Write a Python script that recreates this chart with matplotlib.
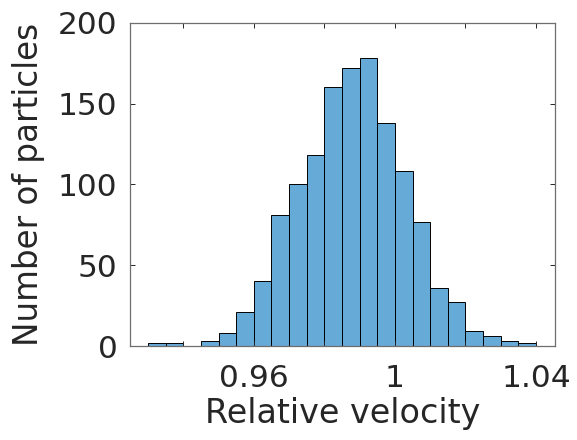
import numpy as np
import matplotlib
matplotlib.use("Agg")
import matplotlib.pyplot as plt

bin_edges = [0.930, 0.935, 0.940, 0.945, 0.950, 0.955, 0.960, 0.965, 0.970, 0.975, 0.980,
             0.985, 0.990, 0.995, 1.000, 1.005, 1.010, 1.015, 1.020, 1.025, 1.030, 1.035, 1.040]
counts = [2, 2, 0, 3, 8, 21, 40, 81, 100, 118, 160, 172, 178, 138, 108, 77, 36, 27, 9, 6, 3, 2]
x_ticks = [0.94, 0.96, 0.98, 1.00, 1.02, 1.04]
x_ticklabels = ["", "0.96", "", "1", "", "1.04"]
y_ticks = [0, 50, 100, 150, 200]
y_ticklabels = ["0", "50", "100", "150", "200"]

plt.rcParams['font.family'] = ['DejaVu Sans']
fig = plt.figure(figsize=(5.77, 4.40), dpi=100)
ax = fig.add_axes([130/577, 1-346/440, (555-130)/577, (346-22.7)/440])

edges = np.array(bin_edges)
ax.bar(edges[:-1], counts, width=np.diff(edges), align='edge',
       color='#66AAD7', edgecolor='black', linewidth=0.7)

ax.set_xlim(0.9249, 1.0454)
ax.set_ylim(0, 200)
ax.set_xticks(x_ticks)
ax.set_xticklabels(x_ticklabels)
ax.set_yticks(y_ticks)
ax.set_yticklabels(y_ticklabels)

txtc = '#262626'
ax.tick_params(direction='in', length=3.5, width=0.7, colors=txtc, labelsize=22.5,
               top=True, right=True)
ax.tick_params(axis='x', pad=13)
ax.tick_params(axis='y', pad=9)
for s in ax.spines.values():
    s.set_color('#6e6e6e')
    s.set_linewidth(0.9)

ax.set_xlabel('Relative velocity', fontsize=24, color=txtc, labelpad=3)
ax.set_ylabel('Number of particles', fontsize=23.5, color=txtc, labelpad=9)

fig.savefig('out.png', dpi=100)
